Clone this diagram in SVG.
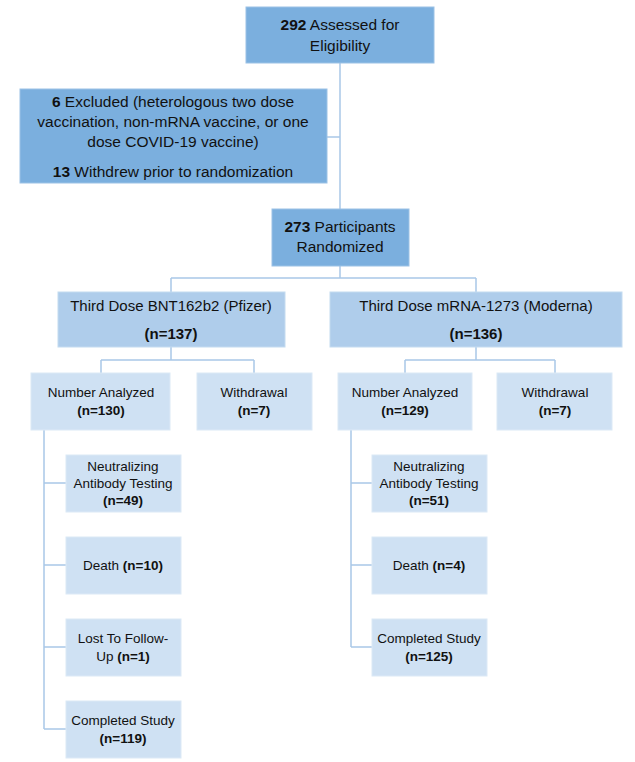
<svg xmlns="http://www.w3.org/2000/svg" width="635" height="762" viewBox="0 0 635 762">
<style>
text{font-family:"Liberation Sans",Arial,sans-serif;fill:#111;text-anchor:middle}
.t1{font-size:15.5px}.t2{font-size:15px}.t3{font-size:13.5px}
.b{font-weight:bold}
.d{fill:#7BAFDE;stroke:#9cc2e6;stroke-width:1}
.m{fill:#AFCDEB;stroke:#c4dbf0;stroke-width:1}
.l{fill:#CFE1F3;stroke:#dce9f6;stroke-width:1}
.c{fill:none;stroke:#A9C8E8;stroke-width:1.5}
</style>
<g id="connectors">
<path class="c" d="M340 63V209M327 137H340M340 266V278M171 278H476M171 278V292M476 278V292"/>
<path class="c" d="M171 347V360M101 360H254M101 360V373M254 360V373"/>
<path class="c" d="M476 347V360M405 360H555M405 360V373M555 360V373"/>
<path class="c" d="M44 430V729M44 483H66M44 565H66M44 647H66M44 729H66"/>
<path class="c" d="M351 430V647M351 483H372M351 565H372M351 647H372"/>
</g>
<g id="assessed"><rect class="d" x="246" y="7" width="188" height="56"/>
<text class="t1" x="340" y="30"><tspan class="b">292</tspan> Assessed for</text><text class="t1" x="340" y="51">Eligibility</text></g>
<g id="excluded"><rect class="d" x="20" y="89" width="307" height="94"/>
<text class="t1" x="173" y="107"><tspan class="b">6</tspan> Excluded (heterologous two dose</text>
<text class="t1" x="173" y="127">vaccination, non-mRNA vaccine, or one</text>
<text class="t1" x="173" y="147">dose COVID-19 vaccine)</text>
<text class="t1" x="173" y="177"><tspan class="b">13</tspan> Withdrew prior to randomization</text></g>
<g id="randomized"><rect class="d" x="272" y="209" width="137" height="57"/>
<text class="t1" x="340" y="232"><tspan class="b">273</tspan> Participants</text><text class="t1" x="340" y="252">Randomized</text></g>
<g id="pfizer"><rect class="m" x="58" y="292" width="227" height="55"/>
<text class="t2" x="171" y="311">Third Dose BNT162b2 (Pfizer)</text><text class="t2 b" x="171" y="339">(n=137)</text></g>
<g id="moderna"><rect class="m" x="330" y="292" width="292" height="55"/>
<text class="t2" x="476" y="311">Third Dose mRNA-1273 (Moderna)</text><text class="t2 b" x="476" y="339">(n=136)</text></g>
<g id="analyzedL"><rect class="l" x="31" y="373" width="139" height="57"/>
<text class="t3" x="101" y="397">Number Analyzed</text><text class="t3 b" x="101" y="415">(n=130)</text></g>
<g id="withdrawL"><rect class="l" x="197" y="373" width="115" height="57"/>
<text class="t3" x="254" y="397">Withdrawal</text><text class="t3 b" x="254" y="415">(n=7)</text></g>
<g id="analyzedR"><rect class="l" x="338" y="373" width="134" height="57"/>
<text class="t3" x="405" y="397">Number Analyzed</text><text class="t3 b" x="405" y="415">(n=129)</text></g>
<g id="withdrawR"><rect class="l" x="497" y="373" width="115" height="57"/>
<text class="t3" x="555" y="397">Withdrawal</text><text class="t3 b" x="555" y="415">(n=7)</text></g>
<g id="nabL"><rect class="l" x="66" y="455" width="115" height="57"/>
<text class="t3" x="123" y="471">Neutralizing</text><text class="t3" x="123" y="488">Antibody Testing</text><text class="t3 b" x="123" y="505">(n=49)</text></g>
<g id="deathL"><rect class="l" x="66" y="537" width="115" height="57"/>
<text class="t3" x="123" y="570">Death <tspan class="b">(n=10)</tspan></text></g>
<g id="lostL"><rect class="l" x="66" y="619" width="115" height="57"/>
<text class="t3" x="123" y="643">Lost To Follow-</text><text class="t3" x="123" y="661">Up <tspan class="b">(n=1)</tspan></text></g>
<g id="completedL"><rect class="l" x="66" y="701" width="115" height="57"/>
<text class="t3" x="123" y="725">Completed Study</text><text class="t3 b" x="123" y="743">(n=119)</text></g>
<g id="nabR"><rect class="l" x="372" y="455" width="115" height="57"/>
<text class="t3" x="429" y="471">Neutralizing</text><text class="t3" x="429" y="488">Antibody Testing</text><text class="t3 b" x="429" y="505">(n=51)</text></g>
<g id="deathR"><rect class="l" x="372" y="537" width="115" height="57"/>
<text class="t3" x="429" y="570">Death <tspan class="b">(n=4)</tspan></text></g>
<g id="completedR"><rect class="l" x="372" y="619" width="115" height="57"/>
<text class="t3" x="429" y="643">Completed Study</text><text class="t3 b" x="429" y="661">(n=125)</text></g>
</svg>
